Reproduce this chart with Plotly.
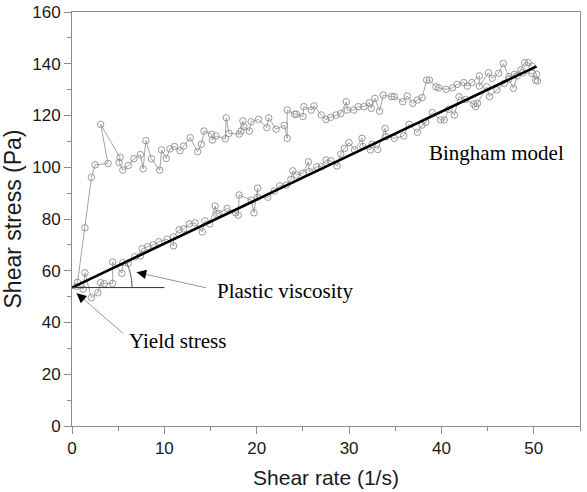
import numpy as np
import plotly.graph_objects as go

# Ramp-up (upper) branch, in measurement order
up_x = [0.6, 1.4, 2.1, 2.5, 3.9, 3.1, 5.2, 5.1, 5.5, 6.1, 6.7, 7.4, 7.7, 8.0, 8.6, 9.5, 9.7, 10.2, 10.6, 11.1,
        11.7, 12.1, 12.8, 13.6, 14.0, 14.3, 15.1, 15.2, 15.6, 16.6, 16.7, 17.0, 18.1, 18.3, 18.5, 18.6, 19.2, 19.4,
        20.2, 21.1, 21.3, 22.1, 23.0, 23.3, 23.3, 24.1, 24.3, 25.0, 25.1, 25.9, 26.2, 27.0, 27.5, 28.0, 28.6, 29.1,
        29.7, 29.8, 30.5, 31.0, 31.6, 32.2, 32.4, 32.8, 33.3, 33.7, 34.6, 34.9, 35.8, 36.3, 36.9, 37.4, 37.9, 38.4,
        38.7, 39.4, 39.7, 40.5, 41.2, 41.7, 42.4, 42.8, 43.3, 44.1, 44.1, 45.1, 45.5, 46.2, 46.7, 47.3, 47.9, 48.6,
        49.0, 49.4, 49.8, 50.3, 50.4]
up_y = [55.5, 76.6, 96.1, 100.9, 101.5, 116.6, 103.8, 101.8, 98.9, 100.7, 103.3, 104.9, 99.4, 110.3, 103.3, 98.9,
        106.7, 103.4, 107.1, 108.0, 106.4, 108.2, 111.4, 106.0, 108.9, 114.0, 112.7, 110.5, 112.1, 111.0, 119.1,
        113.1, 112.8, 114.0, 117.9, 115.7, 114.0, 117.6, 118.5, 115.3, 119.1, 114.7, 116.2, 111.2, 122.1, 120.5,
        120.5, 119.6, 123.4, 122.1, 123.7, 120.2, 118.5, 119.3, 120.2, 120.8, 125.3, 122.1, 122.1, 123.4, 123.4,
        124.9, 122.8, 126.6, 121.7, 127.9, 127.3, 127.3, 125.3, 127.5, 124.7, 126.0, 126.9, 133.7, 133.7, 131.1,
        130.7, 130.1, 130.7, 132.0, 132.7, 131.4, 132.7, 135.3, 131.4, 136.5, 134.4, 136.3, 140.1, 135.0, 135.9,
        137.6, 140.4, 140.4, 139.1, 135.9, 133.3]

# Ramp-down (lower) branch
down_x = [0.5, 1.2, 1.4, 2.1, 2.8, 3.1, 3.5, 4.4, 4.4, 5.4, 5.5, 6.1, 6.8, 7.4, 7.6, 8.2, 8.8, 9.4, 10.3, 11.0,
          11.0, 11.6, 12.1, 12.7, 13.3, 14.1, 14.4, 14.9, 15.5, 15.7, 15.9, 16.8, 17.7, 18.0, 18.1, 19.4, 19.7,
          20.1, 20.1, 21.2, 21.9, 22.5, 23.2, 23.7, 23.9, 24.3, 25.0, 25.6, 25.7, 26.5, 27.0, 27.5, 28.0, 28.7,
          29.1, 29.5, 30.0, 30.6, 31.4, 31.5, 32.3, 32.5, 33.1, 33.9, 34.0, 34.9, 35.9, 36.5, 37.4, 37.9, 38.3,
          39.0, 39.9, 40.3, 40.8, 41.4, 41.9, 42.6, 43.5, 43.7, 43.9, 44.9, 45.2, 46.0, 46.8, 47.3, 47.8, 48.2,
          48.8, 49.8, 50.2]
down_y = [54.0, 52.9, 59.2, 49.6, 51.5, 55.4, 55.0, 55.1, 63.4, 59.0, 63.1, 62.9, 65.4, 65.7, 68.5, 69.3, 70.0,
          71.2, 72.2, 69.6, 73.1, 75.8, 76.2, 78.1, 78.5, 75.0, 79.3, 78.1, 85.0, 81.8, 82.2, 84.1, 82.4, 81.5,
          89.3, 87.3, 82.4, 91.9, 88.4, 88.4, 90.8, 92.8, 93.1, 95.3, 98.6, 97.0, 97.7, 102.1, 98.3, 100.2, 100.2,
          102.8, 102.5, 100.5, 105.1, 107.3, 109.5, 106.7, 111.2, 108.0, 106.7, 108.9, 106.9, 115.0, 111.8, 111.2,
          112.1, 116.6, 113.5, 116.3, 117.4, 121.1, 118.3, 118.3, 122.4, 120.2, 127.3, 126.2, 124.4, 123.4, 124.7,
          131.1, 127.3, 129.9, 132.4, 134.0, 130.5, 135.3, 136.5, 136.3, 133.7]

# Bingham model fit
yield_stress = 53.5
plastic_visc = 1.70
fit_x = [0.0, 50.3]
fit_y = [yield_stress + plastic_visc * v for v in fit_x]

W, H = 587, 492
ML, MR, MT, MB = 72, 7, 12, 66
XR = [0, 55]
YR = [0, 160]
px_x = (W - ML - MR) / (XR[1] - XR[0])
px_y = (H - MT - MB) / (YR[1] - YR[0])

grey = "#8c8c8c"
fig = go.Figure()
marker = dict(symbol="circle-open", size=6.5, color="#8f8f8f", line=dict(width=0.9, color="#8f8f8f"))
fig.add_trace(go.Scatter(x=up_x, y=up_y, mode="lines+markers", marker=marker,
                         line=dict(color="#9a9a9a", width=0.9), showlegend=False))
fig.add_trace(go.Scatter(x=down_x, y=down_y, mode="lines+markers", marker=marker,
                         line=dict(color="#9a9a9a", width=0.9), showlegend=False))
fig.add_trace(go.Scatter(x=fit_x, y=fit_y, mode="lines", line=dict(color="black", width=2.6),
                         showlegend=False))

# Horizontal reference line and angle arc
fig.add_shape(type="line", x0=0, x1=10, y0=yield_stress, y1=yield_stress,
              line=dict(color="#333333", width=1))
R = 60.0
theta = np.arctan(plastic_visc * px_y / px_x)
ts = np.linspace(0, theta, 30)
pts = [(R * np.cos(t) / px_x, yield_stress + R * np.sin(t) / px_y) for t in ts]
path = "M " + " L ".join(f"{a:.4f},{b:.4f}" for a, b in pts)
fig.add_shape(type="path", path=path, line=dict(color="#444444", width=1))

font_serif = "Liberation Serif, Times New Roman, serif"


def arrow(tail, head, hl=9):
    fig.add_shape(type="line", x0=tail[0], y0=tail[1], x1=head[0], y1=head[1],
                  line=dict(color="#999999", width=1))
    dxp = (tail[0] - head[0]) * px_x
    dyp = -(tail[1] - head[1]) * px_y
    n = np.hypot(dxp, dyp)
    fig.add_annotation(x=head[0], y=head[1], ax=dxp / n * hl, ay=dyp / n * hl, xref="x", yref="y",
                       axref="pixel", ayref="pixel", text="", showarrow=True, arrowhead=2,
                       arrowsize=1.2, arrowwidth=1.6, arrowcolor="black")


arrow((14.55, 53.4), (7.0, 59.4), hl=10)
arrow((5.54, 35.8), (0.5, 51.3), hl=9)

fig.add_annotation(x=15.5, y=52.2, text="Plastic viscosity", showarrow=False, xanchor="left",
                   yanchor="middle", font=dict(family=font_serif, size=21, color="black"))
fig.add_annotation(x=5.97, y=32.9, text="Yield stress", showarrow=False, xanchor="left",
                   yanchor="middle", font=dict(family=font_serif, size=21, color="black"))
fig.add_annotation(x=38.4, y=105.5, text="Bingham model", showarrow=False, xanchor="left",
                   yanchor="middle", font=dict(family=font_serif, size=21, color="black"))

axis_common = dict(showgrid=False, zeroline=False, showline=True, linecolor=grey, linewidth=1,
                   mirror=True, ticks="outside", ticklen=7, tickcolor=grey, tickwidth=1,
                   tickfont=dict(family="Liberation Sans, Arial", size=17, color="#1a1a1a"))
fig.update_xaxes(range=XR, dtick=10, tick0=0,
                 minor=dict(dtick=5, ticks="outside", ticklen=4, tickcolor=grey),
                 title=dict(text="Shear rate (1/s)", standoff=12,
                            font=dict(family="Liberation Sans, Arial", size=21, color="#1a1a1a")),
                 **axis_common)
fig.update_yaxes(range=YR, dtick=20, tick0=0,
                 minor=dict(dtick=10, ticks="outside", ticklen=4, tickcolor=grey),
                 title=dict(text="Shear stress (Pa)", standoff=5,
                            font=dict(family="Liberation Sans, Arial", size=23, color="#1a1a1a")),
                 **axis_common)
fig.update_layout(width=W, height=H, margin=dict(l=ML, r=MR, t=MT, b=MB, autoexpand=False),
                  plot_bgcolor="white", paper_bgcolor="white")
fig.write_html("out.html")
